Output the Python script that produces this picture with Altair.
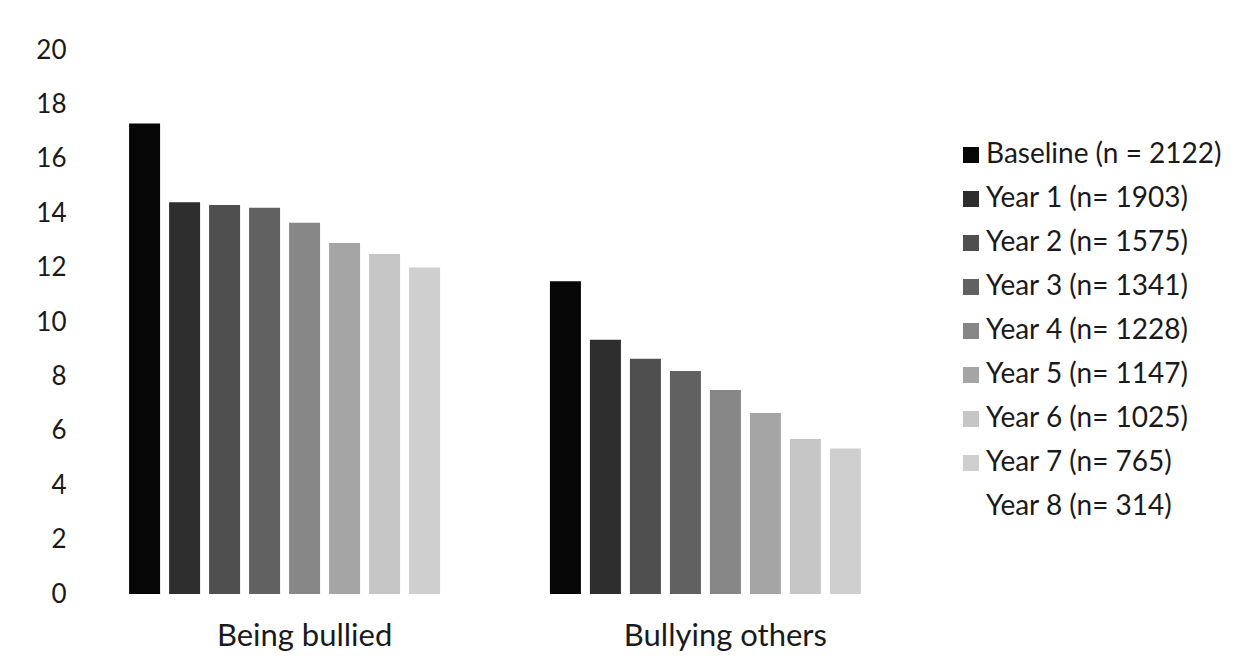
import altair as alt
import pandas as pd

groups = ["Being bullied", "Bullying others"]
series = [
    "Baseline (n = 2122)",
    "Year 1 (n= 1903)",
    "Year 2 (n= 1575)",
    "Year 3 (n= 1341)",
    "Year 4 (n= 1228)",
    "Year 5 (n= 1147)",
    "Year 6 (n= 1025)",
    "Year 7 (n= 765)",
    "Year 8 (n= 314)",
]
# Year 8 bars are white / not visible in the reference, so no value is given
being_bullied = [17.3, 14.4, 14.3, 14.2, 13.65, 12.9, 12.5, 12.0]
bullying_others = [11.5, 9.35, 8.65, 8.2, 7.5, 6.65, 5.7, 5.35]
colors = ["#060606", "#2e2e2e", "#4f4f4f", "#616161", "#878787",
          "#a5a5a5", "#c6c6c6", "#cfcfcf", "#ffffff"]
y_ticks = [0, 2, 4, 6, 8, 10, 12, 14, 16, 18, 20]

rows = []
for s, v in zip(series, being_bullied):
    rows.append({"group": groups[0], "series": s, "value": v})
for s, v in zip(series, bullying_others):
    rows.append({"group": groups[1], "series": s, "value": v})
df = pd.DataFrame(rows)

FONT = "Lato"
TXT = "#1a1a1a"

chart = alt.Chart(df).mark_bar().encode(
    x=alt.X("group:N", sort=groups,
            scale=alt.Scale(paddingInner=0.166, paddingOuter=0.081),
            axis=alt.Axis(title=None, labelAngle=0, ticks=False, domain=False,
                          labelPadding=27, labelFontSize=31, labelFont=FONT,
                          labelColor=TXT, labelLimit=500)),
    xOffset=alt.XOffset("series:N",
                        scale=alt.Scale(domain=series, paddingInner=0.225, paddingOuter=0)),
    y=alt.Y("value:Q", scale=alt.Scale(domain=[0, 20], nice=False),
            axis=alt.Axis(values=y_ticks, title=None, grid=False, domain=False,
                          ticks=False, labelPadding=29, labelFontSize=26,
                          labelFont=FONT, labelColor=TXT)),
    color=alt.Color("series:N",
                    scale=alt.Scale(domain=series, range=colors),
                    legend=alt.Legend(title=None, orient="none", legendX=862, legendY=91,
                                      symbolType="square", symbolSize=256,
                                      symbolStrokeWidth=0, labelFontSize=28,
                                      labelFont=FONT, labelColor=TXT,
                                      labelOffset=1, rowPadding=16,
                                      padding=0, labelLimit=400)),
).properties(
    width=840, height=544,
    autosize=alt.AutoSizeParams(type="none"),
    padding={"left": 87, "top": 42, "right": 300, "bottom": 60},
    background="white",
).configure_view(stroke=None)

chart.save("out.html", embed_options={"renderer": "svg", "actions": False})
